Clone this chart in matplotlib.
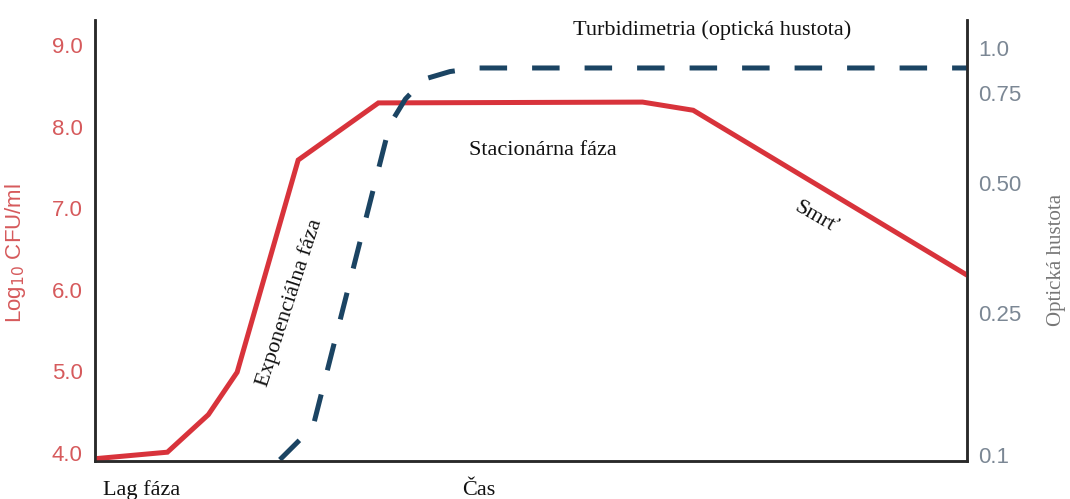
#!/usr/bin/env python3
"""
Bacterial growth curve: log10 CFU/ml (red) and optical density (dashed).
"""

import matplotlib
matplotlib.use("Agg")
import matplotlib.pyplot as plt
import numpy as np

# Time axis (arbitrary units, 0..100)
cfu_time = [0, 8.3, 13.0, 16.3, 23.3, 32.5, 62.8, 68.6, 100]
cfu_log = [3.93, 4.01, 4.47, 4.99, 7.59, 8.29, 8.30, 8.20, 6.18]

od_time = [21.2, 25.0, 33.8, 35.6, 37.8, 40.7, 43.6, 100]
od_value = [0.097, 0.12, 0.65, 0.73, 0.82, 0.86, 0.88, 0.88]

left_ticks = [4, 5, 6, 7, 8, 9]
left_labels = ["4.0", "5.0", "6.0", "7.0", "8.0", "9.0"]
right_ticks = [0.1, 0.25, 0.5, 0.75, 1.0]
right_labels = ["0.1", "0.25", "0.50", "0.75", "1.0"]

# Position of the OD ticks on the (non-uniform) right axis
OD_KNOTS_LOG = np.log10([0.01, 0.1, 0.25, 0.5, 0.75, 1.0, 10.0])
OD_KNOTS_POS = np.array([-357, 0, 142, 272, 362, 407, 767], dtype=float)

RED = "#d8333b"
RED_TXT = "#d65a5c"
NAVY = "#1b4463"
SERIF = "Liberation Serif"
SANS = "Liberation Sans"


def od_forward(v):
    v = np.clip(np.asarray(v, dtype=float), 1e-6, None)
    return np.interp(np.log10(v), OD_KNOTS_LOG, OD_KNOTS_POS)


def od_inverse(p):
    return 10 ** np.interp(np.asarray(p, dtype=float), OD_KNOTS_POS, OD_KNOTS_LOG)


def main():
    fig = plt.figure(figsize=(10.7, 4.99), dpi=100)
    ax = fig.add_axes([95 / 1070, 1 - 461 / 499, 872 / 1070, 441 / 499])
    ax2 = ax.twinx()

    ax.plot(cfu_time, cfu_log, color=RED, lw=3.6, solid_joinstyle="miter", zorder=3)
    ax.set_xlim(0, 100)
    ax.set_ylim(3.902, 9.306)
    ax.set_xticks([])
    ax.set_yticks(left_ticks)
    ax.set_yticklabels(left_labels, color=RED_TXT, fontsize=16, family=SANS)
    ax.tick_params(axis="y", length=0, pad=9)

    ax2.set_yscale("function", functions=(od_forward, od_inverse))
    ax2.plot(od_time, od_value, color=NAVY, lw=3.6, dashes=(5.5, 5),
             dash_capstyle="butt", zorder=2)
    ax2.set_ylim(0.0962, 1.196)
    ax2.set_yticks(right_ticks)
    ax2.set_yticklabels(right_labels, color="#7b8794", fontsize=16, family=SANS)
    ax2.yaxis.set_minor_locator(matplotlib.ticker.NullLocator())
    ax2.tick_params(axis="y", length=0, pad=8)

    for a in (ax, ax2):
        a.spines["top"].set_visible(False)
        for s in ("left", "right", "bottom"):
            a.spines[s].set_color("#2a2a2a")
            a.spines[s].set_linewidth(1.8)

    ax.set_ylabel("Log$_{10}$ CFU/ml", color=RED_TXT, fontsize=16, family=SANS)
    ax.yaxis.set_label_coords(-0.077, 0.472)
    ax2.set_ylabel("Optická hustota", color="#777777", fontsize=15, family=SERIF)
    ax2.yaxis.set_label_coords(1.092, 0.456)

    # Phase annotations
    tkw = dict(transform=ax.transAxes, family=SERIF, fontsize=16, color="#111111",
               ha="center", va="center")
    ax.text(0.7076, 0.977, "Turbidimetria (optická hustota)", **tkw)
    ax.text(0.514, 0.705, "Stacionárna fáza", **tkw)
    ax.text(0.827, 0.551, "Smrť", rotation=-30, **tkw)
    ax.text(0.2236, 0.358, "Exponenciálna fáza", rotation=72, **tkw)
    ax.text(0.053, -0.066, "Lag fáza", clip_on=False, **tkw)
    ax.text(0.440, -0.066, "Čas", clip_on=False, **tkw)

    fig.savefig("out.png", dpi=100)
    plt.close(fig)


if __name__ == "__main__":
    main()
